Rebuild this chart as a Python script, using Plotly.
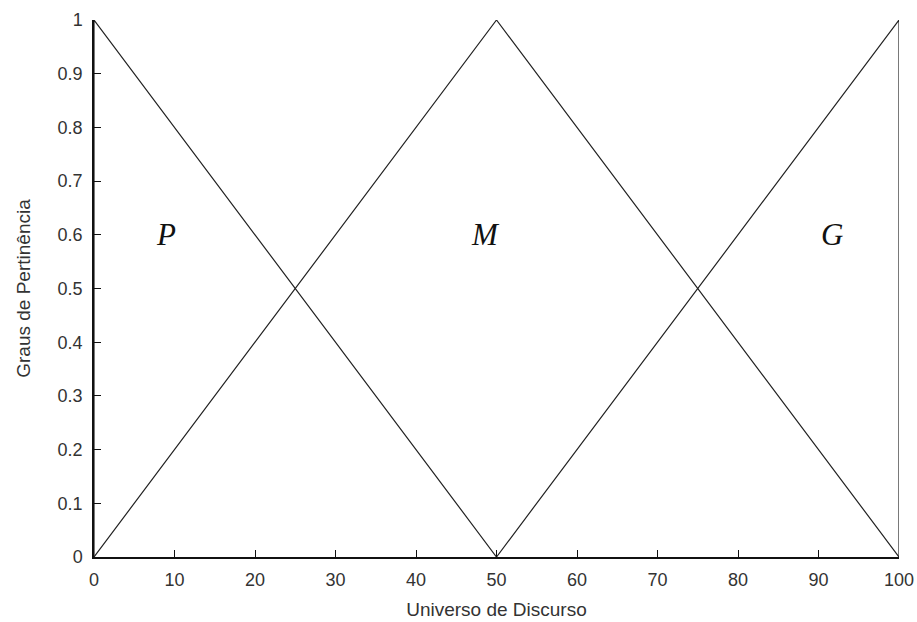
import plotly.graph_objects as go

# Membership functions of the linguistic terms over the universe of discourse
x_p = [0, 0, 50]
y_p = [0, 1, 0]
x_m = [0, 50, 100]
y_m = [0, 1, 0]
x_g = [50, 100, 100]
y_g = [0, 1, 0]

term_names = ["P", "M", "G"]
term_x = [8.9, 48.6, 91.7]
term_y = [0.6, 0.6, 0.6]

x_ticks = [0, 10, 20, 30, 40, 50, 60, 70, 80, 90, 100]
y_ticks = [0, 0.1, 0.2, 0.3, 0.4, 0.5, 0.6, 0.7, 0.8, 0.9, 1]

fig = go.Figure()
line_style = dict(color="#222222", width=1.2)
for xs, ys in [(x_p, y_p), (x_m, y_m), (x_g, y_g)]:
    fig.add_trace(go.Scatter(x=xs, y=ys, mode="lines", line=line_style,
                             hoverinfo="skip", showlegend=False, cliponaxis=False))

for name, tx, ty in zip(term_names, term_x, term_y):
    fig.add_annotation(x=tx, y=ty, text=f"<i>{name}</i>", showarrow=False,
                       font=dict(family="Liberation Serif", size=31, color="#111111"))

tick_font = dict(family="Liberation Sans", size=18, color="#333333")
title_font = dict(family="Liberation Sans", size=19, color="#333333")
axis_common = dict(showgrid=False, zeroline=False, showline=True, linecolor="#111111",
                   linewidth=1.5, ticks="inside", ticklen=7, tickcolor="#111111",
                   tickfont=tick_font, mirror=False, ticklabeloverflow="allow",
                   automargin=False)

fig.update_layout(
    width=917, height=622,
    margin=dict(l=94, r=18, t=20, b=65),
    paper_bgcolor="white", plot_bgcolor="white",
    xaxis=dict(range=[0, 100], tickvals=x_ticks, ticktext=[str(v) for v in x_ticks],
               ticklabelstandoff=6,
               title=dict(text="Universo de Discurso", standoff=13, font=title_font),
               **axis_common),
    yaxis=dict(range=[0, 1], tickvals=y_ticks, ticktext=[f"{v:g}" for v in y_ticks],
               ticklabelstandoff=6,
               title=dict(text="Graus de Pertinência", standoff=22, font=title_font),
               **axis_common),
)

fig.write_html("out.html")
